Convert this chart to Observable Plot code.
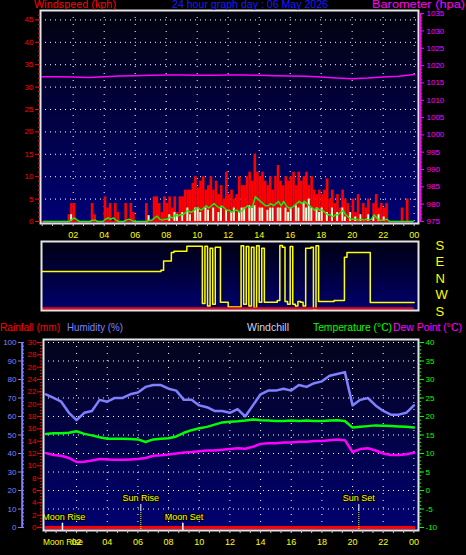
<!DOCTYPE html>
<html><head><meta charset="utf-8">
<script src="https://cdn.jsdelivr.net/npm/d3@7"></script>
<script src="https://cdn.jsdelivr.net/npm/@observablehq/plot@0.6"></script>
<style>
html,body{margin:0;padding:0;background:#000;}
#root{position:relative;width:466px;height:555px;background:#000;overflow:hidden;}
#root svg{position:absolute;left:0;}
</style></head><body><div id="root"></div>
<script>
// ---------- DATA ----------
const titleText = "24 hour graph day : 06 May 2026";
const hourTicks = [2,4,6,8,10,12,14,16,18,20,22,24];
const hourLabels = ["02","04","06","08","10","12","14","16","18","20","22","00"];
const windTicks = [0,5,10,15,20,25,30,35,40,45];
const baroTicks = [975,980,985,990,995,1000,1005,1010,1015,1020,1025,1030,1035];
const humTicks = [0,10,20,30,40,50,60,70,80,90,100];
const rainTicks = [0,2,4,6,8,10,12,14,16,18,20,22,24,26,28,30];
const tempTicks = [-10,-5,0,5,10,15,20,25,30,35,40];
const dirTicks = [180,90,0,-90,-180];
const dirLetters = ["S","E","N","W","S"];

// wind gust (kph), 10-minute samples
const gustKph = [
 0,0,0,0,0,0,
 0,0,0,0,1.5,4,
 4,0,0,0,0,0,
 0,4,1.5,0,0,0,
 5.5,3,4,0,4,2,
 0,0,4,0,4,2,
 0,0,0,0,4,0,
 0,5.5,5.5,4,2,5.5,
 4,5.5,3,5.5,2,5.5,
 5.5,7,7,7,8.5,10,
 7.5,9,10,7,8,10,
 7,9,6,8,5,11,
 6,7,5,6,10,8,
 8,10,11,9,15,11,
 10,11,9,8,10,7,
 10,12.5,9,8,10,9,
 10,11,8,11,9,10,
 11,8,10,7,6,7,
 6,7,9.5,5,7,4,
 6,3,7,5,4,2,
 5,2,6,0,4,3,
 5,0,4,6,3,4,
 3,4,0,0,0,0,
 0,3,0,5,0,0];
// wind speed bars (kph), 10-minute samples
const speedKph = [
 0,0,0,0,0,0,
 0,0,0,0,0,1.5,
 0,0,0,0,0,0,
 0,0,0,0,0,0,
 0,0,0,0,0,0,
 0,0,0,0,0,0,
 0,0,0,0,0,1.3,
 0,0,0,0,0,0,
 0,1.5,0,2,1.5,0,
 2,0,3,1.5,0,3,
 3,2,0,3,2.5,0,
 3,0,2,3,0,2.5,
 0,2,3,0,2,3,
 3,0,3.5,3,3.5,0,
 3,3,0,2.5,3,3,
 0,3,3,0,3,2,
 3,0,3.5,3,0,4,
 3,5,3,0,3,2,
 3,0,2,0,3,0,
 2,0,3,1,0,2,
 0,1,0,1.5,0,0,
 1.5,0,1,0,1.5,0,
 1,0,0,0,0,0,
 0,0,0,0,0,0];
// average wind (kph), 10-minute samples
const avgKph = [
 0,0,0,0,0,0,
 0,0,0,0,0,0.5,
 0.8,0.3,0,0,0,0,
 0,0.3,0.3,0,0,0,
 0.5,0.8,0.5,0.8,0.3,0,
 0,0,0.3,0.5,0.3,0,
 0,0,0,0,0,0.3,
 0.3,0.8,1.2,0.5,0.3,0.5,
 0.5,1.0,0.8,1.5,1.2,1.5,
 1.5,2.0,2.5,2.0,2.3,3.0,
 3.0,2.5,3.0,3.5,3.0,3.5,
 4.0,3.5,3.0,3.5,3.0,2.5,
 2.5,2.0,2.5,2.5,2.0,2.5,
 3.0,3.5,3.0,3.5,5.5,5.0,
 4.5,4.0,3.5,3.5,4.0,3.5,
 4.0,4.5,3.5,4.5,3.5,3.0,
 3.0,3.5,4.0,4.5,4.0,4.5,
 4.0,3.5,3.0,2.5,3.0,2.5,
 2.5,2.0,1.5,1.5,1.0,1.5,
 1.5,2.0,2.5,1.5,1.0,0.5,
 0.5,0.5,0.3,0.5,0.3,0.5,
 0.3,0.5,1.5,0.8,0.3,0.3,
 0.3,0.5,0,0,0,0,
 0,0,0,0,0,0];
// barometer (hPa), hourly 00..24
const baroHpa = [1016.8,1016.8,1016.7,1016.6,1016.8,1017.0,1017.1,1017.2,1017.3,1017.3,1017.2,1017.2,1017.3,1017.3,1017.2,1017.1,1017.0,1016.9,1016.7,1016.4,1016.2,1016.4,1016.7,1016.9,1017.4];
// wind direction (degrees from N, east positive), 10-minute samples
const windDirDeg = [
 38,38,38,38,38,38, 38,38,38,38,38,38, 38,38,38,38,38,38, 38,38,38,38,38,38,
 38,38,38,38,38,38, 38,38,38,38,38,38, 38,38,38,38,38,38,
 38,38,38,38,45,95,
 95,95,142,148,148,148,
 148,148,176,176,176,176,
 176,176,-137,176,-150,165,
 -140,170,170,-130,-130,-130,
 -155,-155,-155,-155,-155,178,
 -140,175,-150,170,-160,178,
 -130,165,-130,-130,-130,-130,
 -130,-120,180,170,-125,-140,
 175,-140,-150,-125,-130,-150,
 165,165,170,-165,178,-125,
 -125,-125,-125,-125,-125,-120,
 -120,-120,-120,116,142,142,
 142,142,142,142,142,142,
 142,-131,-131,-131,-131,-131,
 -131,-131,-131,-131,-131,-131,
 -131,-131,-131,-131,-131,-131,
 -131];
// half-hourly 00:00..24:00
const humidityPct = [72,70,68,62,58,62,63,69,68,70,70,72,73,76,77,77,75,74,69,69,66,65,63,63,62,64,60,66,72,74,74,75,74,77,76,78,79,82,83,84,66,69,70,66,63,61,61,62,66];
const temperatureC = [15.3,15.5,15.5,15.6,16,15.3,14.9,14.4,14,14,14,13.9,13.8,13.1,13.8,14,14.1,14.6,15.6,16.3,16.8,17.2,17.8,18.4,18.6,18.7,18.9,19.2,19,18.9,18.8,18.8,18.9,18.8,18.9,18.8,18.8,18.9,19,18.8,17,17.2,17.4,17.6,17.5,17.4,17.3,17.2,17.0];
const dewPointC = [10.1,9.6,9.4,8.8,7.7,7.8,8.1,8.5,8.4,8.3,8.3,8.4,8.5,8.8,9.4,9.5,9.7,10,10.3,10.4,10.6,10.8,10.8,11,11.2,11.4,11.3,11.8,12.6,12.8,12.8,13,13,13.2,13.2,13.4,13.4,13.6,13.8,13.6,10.4,11.2,11.4,10.8,10,9.6,9.6,9.8,10.2];
const rainfallMm = [0,0,0,0,0,0,0,0,0,0,0,0,0,0,0,0,0,0,0,0,0,0,0,0,0];
// sun / moon events (hour of day)
const sunNames = ["Sun Rise","Sun Set"];
const sunHours = [6.19,20.41];
const moonNames = ["Moon Rise","Moon Set"];
const moonHours = [1.08,8.93];

// ---------- HELPERS ----------
const FONT = "'Liberation Sans', Arial, sans-serif";
const NS = "http://www.w3.org/2000/svg";
const root = document.getElementById("root");
function addGradient(svg, id, c0, c1) {
  const defs = document.createElementNS(NS, "defs");
  defs.innerHTML = `<linearGradient id="${id}" x1="0" y1="0" x2="0" y2="1"><stop offset="0" stop-color="${c0}"/><stop offset="1" stop-color="${c1}"/></linearGradient>`;
  svg.insertBefore(defs, svg.firstChild);
}
function place(svg, top) { svg.style.top = top + "px"; svg.style.left = "0px"; svg.style.position = "absolute"; root.appendChild(svg); }
const labelOf = (vals, labels) => d => labels[vals.indexOf(d)];
const dots = {stroke: "#ffffff", strokeOpacity: 1, strokeWidth: 1};
const minorHours = d3.range(0, 24.01, 2/3);

// ---------- PANEL 1: wind + barometer ----------
const hpaToKph = h => (h - 975) * 46.4 / 60;
const p1 = Plot.plot({
  width: 466, height: 240, marginTop: 10, marginBottom: 17, marginLeft: 40, marginRight: 48,
  style: {background: "transparent", fontFamily: FONT, fontSize: "8px", overflow: "visible"},
  x: {domain: [-0.11, 24.28], axis: null},
  y: {domain: [-0.45, 47.1], axis: null},
  marks: [
    Plot.frame({fill: "url(#gTop)"}),
    Plot.gridY(windTicks.slice(1), {...dots, strokeDasharray: "1,4"}),
    Plot.gridX(hourTicks, {...dots, strokeDasharray: "1,6"}),
    Plot.rectY(gustKph, {x1: (d, i) => i / 6, x2: (d, i) => (i + 1) / 6, y: d => d, fill: "#ff0000"}),
    Plot.ruleY([0], {x1: 0, x2: 24, stroke: "#ff0000", strokeWidth: 1.5}),
    Plot.rectY(speedKph, {x1: (d, i) => i / 6, x2: (d, i) => (i + 1) / 6, y: d => d, fill: "#e0ffe0", insetRight: 0.6}),
    Plot.lineY(avgKph, {x: (d, i) => i / 6 + 1 / 12, y: d => d, stroke: "#11ee11", strokeWidth: 1.5}),
    Plot.lineY(baroHpa, {x: (d, i) => i, y: d => hpaToKph(d), stroke: "#ff00ff", strokeWidth: 1.5}),
    Plot.frame({stroke: "#e4e4e4", strokeWidth: 2}),
    Plot.axisY(windTicks, {anchor: "left", tickSize: 5, tickPadding: 2, color: "#ff0000", fontSize: 8, label: null}),
    Plot.axisY(d3.range(0, 47, 1), {anchor: "left", tickSize: 2, tickFormat: () => "", color: "#ff0000", label: null}),
    Plot.ruleX([24.28], {y1: 0, y2: hpaToKph(1035), dx: 2, stroke: "#ff00ff", strokeWidth: 1.5}),
    Plot.axisY(baroTicks.map(hpaToKph), {anchor: "right", tickSize: 5, tickPadding: 3, tickFormat: labelOf(baroTicks.map(hpaToKph), baroTicks.map(String)), color: "#ff00ff", fontSize: 8, label: null}),
    Plot.axisY(d3.range(975, 1036, 1).map(hpaToKph), {anchor: "right", tickSize: 3, tickFormat: () => "", color: "#ff00ff", label: null}),
    Plot.axisX(minorHours, {anchor: "bottom", tickSize: 3, tickFormat: () => "", color: "#c8c8c8", label: null}),
    Plot.axisX(hourTicks, {anchor: "bottom", tickSize: 0, tickPadding: 8, tickFormat: labelOf(hourTicks, hourLabels), color: "#ffff00", fontSize: 9, label: null})
  ]
});
addGradient(p1, "gTop", "#02020e", "#000076");
place(p1, 0);

// ---------- PANEL 2: wind direction ----------
const p2 = Plot.plot({
  width: 466, height: 90, marginTop: 11, marginBottom: 10, marginLeft: 41, marginRight: 48,
  style: {background: "transparent", fontFamily: FONT, fontSize: "13px", overflow: "visible"},
  x: {domain: [-0.045, 24.28], axis: null},
  y: {domain: [-174.5, 201.8], axis: null},
  marks: [
    Plot.frame({fill: "url(#gDir)"}),
    Plot.lineY(windDirDeg, {x: (d, i) => i / 6, y: d => d, curve: "step-after", stroke: "#ffff00", strokeWidth: 1.5}),
    Plot.ruleY([-162], {x1: 0, x2: 24, stroke: "#ff0000", strokeWidth: 2}),
    Plot.frame({stroke: "#e4e4e4", strokeWidth: 2}),
    Plot.axisY(dirTicks, {anchor: "right", tickSize: 0, tickPadding: 17, tickFormat: labelOf(dirTicks, dirLetters), color: "#ffff00", fontSize: 13, label: null})
  ]
});
addGradient(p2, "gDir", "#000012", "#00006e");
place(p2, 230);

// ---------- PANEL 3: temperature / humidity / rain ----------
const tToH = t => (t + 10) * 2;
const rToH = r => r * 100 / 30;
const p3 = Plot.plot({
  width: 466, height: 223, marginTop: 7, marginBottom: 25, marginLeft: 43, marginRight: 48,
  style: {background: "transparent", fontFamily: FONT, fontSize: "8px", overflow: "visible"},
  x: {domain: [-0.157, 24.3], axis: null},
  y: {domain: [-1.62, 101.62], axis: null},
  marks: [
    Plot.frame({fill: "url(#gBot)"}),
    Plot.gridY(humTicks.slice(1), {...dots, strokeDasharray: "1,4"}),
    Plot.gridX(hourTicks, {...dots, strokeDasharray: "1,6"}),
    Plot.lineY(dewPointC, {x: (d, i) => i / 2, y: d => tToH(d), stroke: "#ff00ff", strokeWidth: 2.5}),
    Plot.lineY(temperatureC, {x: (d, i) => i / 2, y: d => tToH(d), stroke: "#00ff00", strokeWidth: 2.5}),
    Plot.lineY(humidityPct, {x: (d, i) => i / 2, y: d => d, stroke: "#8080ff", strokeWidth: 2.5}),
    Plot.lineY(rainfallMm, {x: (d, i) => i, y: d => rToH(d), stroke: "#ff0000", strokeWidth: 3}),
    Plot.ruleX(sunHours, {y1: 8.6, y2: 12.4, stroke: "#ffffff", strokeWidth: 1}),
    Plot.ruleX(sunHours, {y1: -1.1, y2: 8.6, stroke: "#ffff00", strokeWidth: 1, strokeDasharray: "1,1"}),
    Plot.ruleX(moonHours, {y1: -1.6, y2: 2.3, stroke: "#ffffff", strokeWidth: 1.5}),
    Plot.text(sunNames, {x: (d, i) => sunHours[i], y: 15.8, text: d => d, fill: "#ffff00", stroke: "#000000", strokeWidth: 2, fontSize: 9}),
    Plot.text(moonNames, {x: (d, i) => moonHours[i] + 0.08, y: 5.6, text: d => d, fill: "#ffff00", stroke: "#000000", strokeWidth: 2, fontSize: 9}),
    Plot.frame({stroke: "#e4e4e4", strokeWidth: 2}),
    // humidity axis (far left)
    Plot.ruleX([-0.157], {y1: 0, y2: 100, dx: -21.3, stroke: "#8080ff", strokeWidth: 2}),
    Plot.axisY(humTicks, {anchor: "left", dx: -21, tickSize: 4, tickPadding: 2, color: "#8080ff", fontSize: 8, label: null}),
    Plot.axisY(d3.range(0, 101, 2), {anchor: "left", dx: -19, tickSize: 2, tickFormat: () => "", color: "#8080ff", label: null}),
    // rainfall axis
    Plot.axisY(rainTicks.map(rToH), {anchor: "left", dx: -1, tickSize: 5, tickPadding: 1, tickFormat: labelOf(rainTicks.map(rToH), rainTicks.map(String)), color: "#ff0000", fontSize: 8, label: null}),
    Plot.axisY(d3.range(0, 30.01, 0.5).map(rToH), {anchor: "left", dx: -1, tickSize: 2, tickFormat: () => "", color: "#ff0000", label: null}),
    // temperature axis
    Plot.axisY(tempTicks.map(tToH), {anchor: "right", tickSize: 5, tickPadding: 2, tickFormat: labelOf(tempTicks.map(tToH), tempTicks.map(String)), color: "#00ff00", fontSize: 8, label: null}),
    Plot.axisY(d3.range(-10, 40.01, 1).map(tToH), {anchor: "right", tickSize: 2, tickFormat: () => "", color: "#00ff00", label: null}),
    // x axis
    Plot.axisX(minorHours, {anchor: "bottom", tickSize: 3, tickFormat: () => "", color: "#c8c8c8", label: null}),
    Plot.axisX(hourTicks, {anchor: "bottom", tickSize: 0, tickPadding: 8, tickFormat: labelOf(hourTicks, hourLabels), color: "#ffff00", fontSize: 9, label: null})
  ]
});
addGradient(p3, "gBot", "#04041a", "#000072");
place(p3, 332);

// ---------- TITLES / LEGEND TEXT ----------
const overlay = d3.create("svg").attr("width", 466).attr("height", 555)
  .style("position", "absolute").style("top", "0px").style("left", "0px")
  .style("pointer-events", "none").style("font-family", FONT);
const titles = [
  {t: "Windspeed (kph)", x: 34, y: 8, w: 82, c: "#ff0000", s: 10},
  {t: titleText, x: 172, y: 8, w: 156, c: "#1a1aff", s: 10},
  {t: "Barometer (hpa)", x: 372, y: 8, w: 93, c: "#ff00ff", s: 10},
  {t: "Rainfall (mm)", x: 0, y: 331, w: 60, c: "#ff0000", s: 10.5},
  {t: "Humidity (%)", x: 67, y: 331, w: 56, c: "#8080ff", s: 10.5},
  {t: "Windchill", x: 247, y: 331, w: 42, c: "#c8d4f4", s: 10.5},
  {t: "Temperature (°C)", x: 313, y: 331, w: 79, c: "#00ff00", s: 10.5},
  {t: "Dew Point (°C)", x: 393, y: 331, w: 69, c: "#ff00ff", s: 10.5},
  {t: "Moon Rise", x: 43, y: 545, w: 40, c: "#ffff00", s: 9}
];
overlay.selectAll("text").data(titles).join("text")
  .attr("x", d => d.x).attr("y", d => d.y).attr("fill", d => d.c)
  .attr("font-size", d => d.s).attr("textLength", d => d.w).attr("lengthAdjust", "spacingAndGlyphs")
  .text(d => d.t);
root.appendChild(overlay.node());
</script></body></html>
